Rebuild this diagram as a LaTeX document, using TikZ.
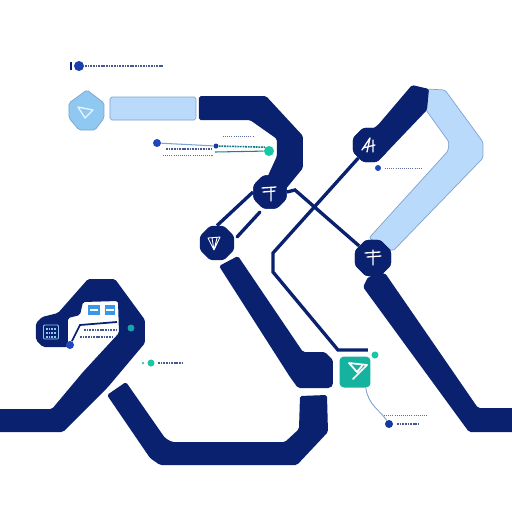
\documentclass[tikz,border=0pt]{standalone}
\usepackage{xcolor}
\usetikzlibrary{shapes,positioning,calc}
\definecolor{navy}{RGB}{9,33,110}
\definecolor{paleblue}{RGB}{186,218,251}
\definecolor{paleedge}{RGB}{126,163,207}
\definecolor{skyblue}{RGB}{143,200,240}
\definecolor{tealbox}{RGB}{22,178,160}
\definecolor{dotteal}{RGB}{24,200,165}
\definecolor{dotblue}{RGB}{30,70,190}
\definecolor{boxblue}{RGB}{58,150,230}

\begin{document}
\begin{tikzpicture}[
    x=0.02cm, y=-0.02cm,
    band/.style={fill=navy, rounded corners=1pt},
    pale/.style={fill=paleblue, draw=paleedge, line width=0.4pt, rounded corners=1pt},
    hub/.style={regular polygon, regular polygon sides=8, fill=navy, rounded corners=1.5pt, inner sep=0pt},
    link/.style={draw=navy, line width=1.9pt},
    glyph/.style={draw=white, line width=0.75pt, line cap=round, line join=round},
    greek/.style={draw=navy!75, line width=0.9pt, dash pattern=on 1pt off 0.5pt},
    fine/.style={draw=navy!65, line width=0.5pt, dash pattern=on 0.6pt off 0.6pt},
    spot/.style={circle, inner sep=0pt}
]
    % Page
    \useasboundingbox[fill=white] (0,0) rectangle (512,512);
    \clip (0,0) rectangle (512,512);

    % Top bands
    \draw[pale] (110,97) rectangle (196,120);
    \fill[band] (199,96) -- (266,96) -- (303,136) -- (303,168) -- (285,190) -- (266,180) -- (277,156) -- (277,139) -- (250,120) -- (199,120) -- cycle;
    \draw[pale] (427,89) -- (445,90) -- (483,142) -- (483,158) -- (393,251) -- (369,238) -- (448,151) -- (449,142) -- (426,110) -- cycle;
    \fill[band] (412,85) -- (429,89) -- (427,110) -- (385,154) -- (372,150) -- (364,135) -- (378,125) -- cycle;

    % Lower bands
    \fill[band] (219,266) -- (238,256) -- (303,352) -- (325,352) -- (333,360) -- (333,385) -- (330,388) -- (298,388) -- (290,377) -- cycle;
    \fill[band] (107,395) -- (126,382) -- (165,438) -- (172,442) -- (285,442) -- (299,429) -- (300,396) -- (327,395) -- (328,432) -- (297,465) -- (160,465) -- (150,458) -- cycle;
    \fill[band] (368,277) -- (385,273) -- (478,408) -- (525,408) -- (525,432) -- (469,432) -- (363,287) -- cycle;
    \fill[band] (-12,409) -- (52,409) -- (83,372) -- (119,333) -- (118,301) -- (83,302) -- (80,315) -- (68,318) -- (68,347) -- (43,347) -- (36,340) -- (36,323) -- (42,317) -- (58,313) -- (88,279) -- (115,279) -- (145,320) -- (145,343) -- (108,387) -- (63,432) -- (-12,432) -- cycle;

    % Hubs
    \node[hub, minimum size=0.72cm] (hubmid) at (270,192) {};
    \node[hub, minimum size=0.74cm] (hubleft) at (217,243) {};
    \node[hub, minimum size=0.74cm] (hubtop) at (370,145) {};
    \node[hub, minimum size=0.78cm] (hubright) at (373,258) {};
    \draw[fill=skyblue, draw=paleedge, line width=0.4pt, rounded corners=1pt] (87,90) -- (104,103) -- (104,118) -- (95,130) -- (79,130) -- (69,118) -- (69,103) -- cycle;
    \node[fill=tealbox, rounded corners=2.5pt, minimum size=0.62cm, inner sep=0pt] (tealhub) at (355,372) {};
    \node[fill=navy, draw=skyblue, line width=0.5pt, minimum width=0.3cm, minimum height=0.28cm, inner sep=0pt, rounded corners=0.5pt] (stack) at (51,332) {};
    \node[fill=boxblue, minimum width=0.24cm, minimum height=0.2cm, inner sep=0pt] (boxa) at (94,310) {};
    \node[fill=boxblue, minimum width=0.22cm, minimum height=0.2cm, inner sep=0pt] (boxb) at (110,310) {};

    % Connectors
    \coordinate (hookend) at (295,190);
    \coordinate (stubA) at (260,212);
    \coordinate (stubB) at (237,237);
    \coordinate (kneeA) at (273,253);
    \coordinate (kneeB) at (273,272);
    \coordinate (kneeC) at (338,350);
    \coordinate (kneeD) at (368,350);
    \draw[link] (hubmid.west) -- (hubleft.north);
    \draw[link, line cap=round] (stubA) -- (stubB);
    \draw[link] (hubmid.east) -- (hookend) -- (hubright);
    \draw[link] (hubtop) -- (kneeA) -- (kneeB) -- (kneeC) -- (kneeD);
    \node[hub, minimum size=0.72cm] at (hubmid) {};
    \node[hub, minimum size=0.78cm] at (hubright) {};
    \node[hub, minimum size=0.74cm] at (hubtop) {};

    % Glyphs in the hubs
    \draw[glyph] (262,188) -- (276,187) (263,192) -- (275,191) (271,187) -- (271,201);
    \draw[glyph] (365,253) -- (380,252) (367,257) -- (381,256) (373,250) -- (373,265);
    \draw[glyph] (362,150) -- (370,138) -- (367,152) (373,140) -- (373,152) (363,148) -- (375,145);
    \draw[glyph, line width=0.5pt] (208,238) -- (220,237) -- (214,250) -- cycle (212,238) -- (214,250) -- (217,238);
    \draw[glyph, draw=white!80!skyblue] (78,107) -- (93,110) -- (85,118) -- cycle;
    \draw[glyph, line width=1pt] (349,363) -- (367,365) -- (353,379) (349,363) -- (357,372) -- (362,366);
    \draw[greek, draw=skyblue] (46,329) -- (56,329) (46,333) -- (56,333) (46,337) -- (56,337);
    \draw[white, line width=0.6pt] (90,310) -- (98,310) (106,310) -- (114,310);

    % Title
    \draw[navy, line width=0.8pt] (71,62) -- (71,70);
    \node[spot, fill=dotblue!80!navy, minimum size=0.2cm] (titledot) at (79,66) {};
    \draw[greek] (85,66) -- (163,66);

    % Upper callout
    \node[spot, fill=dotblue, minimum size=0.16cm] (calldot) at (157,143) {};
    \node[spot, fill=dotblue!70!navy, minimum size=0.1cm] (calljoin) at (216,146) {};
    \node[spot, fill=dotteal, minimum size=0.2cm] (callend) at (269,151) {};
    \draw[paleedge, line width=0.6pt] (calldot) -- (calljoin);
    \draw[greek, draw=tealbox!60!navy] (calljoin) -- (callend.north west);
    \draw[tealbox!70!navy, line width=0.6pt] (215,152) -- (callend);
    \draw[greek] (166,149) -- (212,149);
    \draw[fine] (163,155) -- (213,155);
    \draw[fine] (223,136) -- (253,136);

    % Notes on the right
    \node[spot, fill=dotblue, minimum size=0.12cm] (notedot) at (378,168) {};
    \draw[fine] (385,168) -- (422,168);
    \node[spot, fill=dotteal, minimum size=0.14cm] (tealdot) at (375,355) {};
    \node[spot, fill=dotblue!60!navy, minimum size=0.16cm] (notetwo) at (389,424) {};
    \draw[paleedge, line width=0.5pt] (tealhub.south east) ++(-5,0) .. controls (368,405) and (380,410) .. (notetwo);
    \draw[fine] (384,415) -- (428,415);
    \draw[greek] (397,424) -- (419,424);

    % Notes on the left
    \node[spot, fill=dotteal!70!dotblue, minimum size=0.14cm] (leftteal) at (131,328) {};
    \node[spot, fill=dotblue, minimum size=0.16cm] (leftblue) at (70,345) {};
    \coordinate (leftbend) at (80,325);
    \coordinate (leftend) at (117,322);
    \draw[navy, line width=1pt] (leftblue) -- (75,335) -- (leftbend) -- (leftend);
    \draw[greek] (84,330) -- (117,330);
    \draw[greek] (80,337) -- (113,337);
    \node[spot, fill=dotteal, minimum size=0.14cm] (midsquare) at (151,363) {};
    \node[spot, fill=dotteal, minimum size=0.05cm] (midtick) at (143,363) {};
    \draw[greek] (158,363) -- (182,363);
\end{tikzpicture}
\end{document}
